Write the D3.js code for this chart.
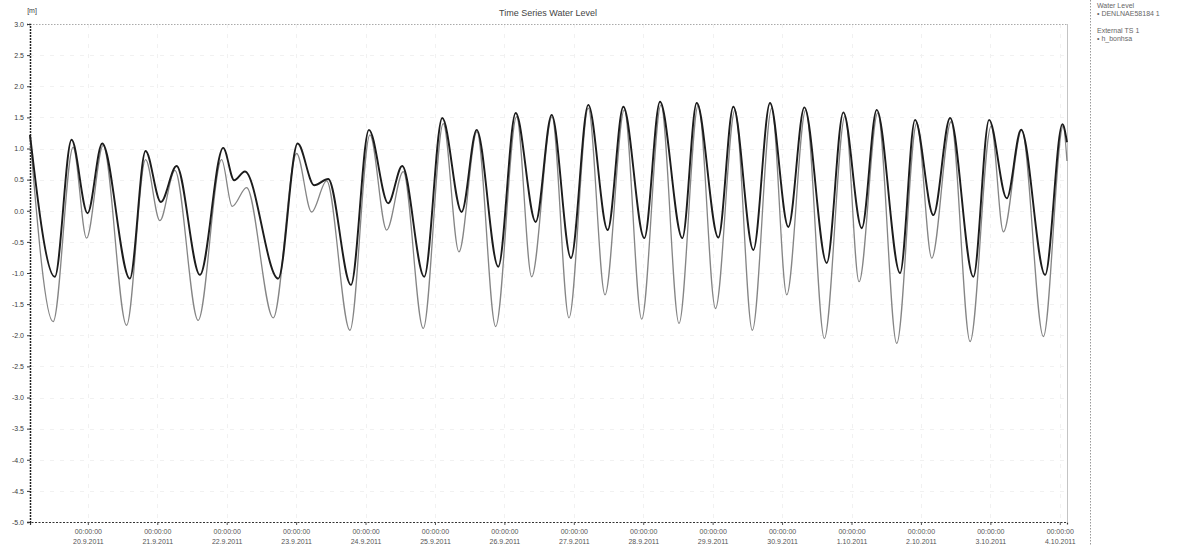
<!DOCTYPE html>
<html>
<head>
<meta charset="utf-8">
<script src="https://cdn.jsdelivr.net/npm/d3@7"></script>
<style>
  html, body { margin: 0; padding: 0; background: #fff; }
  svg { display: block; }
  text { font-family: "Liberation Sans", "DejaVu Sans", sans-serif; }
</style>
</head>
<body>
<svg id="chart" width="1203" height="558"></svg>
<script>
// Water level time series (m), turning points of the tide curve
const waterLevel = [
  ["2011-09-19 04:00", 1.22], ["2011-09-19 12:35", -1.06], ["2011-09-19 18:22", 1.14],
  ["2011-09-19 23:54", -0.04], ["2011-09-20 04:57", 1.08], ["2011-09-20 14:31", -1.09],
  ["2011-09-20 19:57", 0.96], ["2011-09-21 01:14", 0.14], ["2011-09-21 06:40", 0.72],
  ["2011-09-21 14:44", -1.03], ["2011-09-21 22:47", 1.01], ["2011-09-22 02:35", 0.49],
  ["2011-09-22 06:17", 0.63], ["2011-09-22 17:49", -1.09], ["2011-09-23 00:31", 1.08],
  ["2011-09-23 06:15", 0.41], ["2011-09-23 11:06", 0.51], ["2011-09-23 18:57", -1.19],
  ["2011-09-24 01:10", 1.30], ["2011-09-24 07:50", 0.12], ["2011-09-24 12:41", 0.72],
  ["2011-09-24 20:17", -1.06], ["2011-09-25 02:31", 1.49], ["2011-09-25 09:13", -0.02],
  ["2011-09-25 14:25", 1.30], ["2011-09-25 21:53", -0.90], ["2011-09-26 03:54", 1.57],
  ["2011-09-26 10:49", -0.18], ["2011-09-26 16:21", 1.54], ["2011-09-26 23:01", -0.76],
  ["2011-09-27 05:00", 1.70], ["2011-09-27 11:43", -0.31], ["2011-09-27 17:07", 1.67],
  ["2011-09-28 00:22", -0.44], ["2011-09-28 05:48", 1.75], ["2011-09-28 13:31", -0.44],
  ["2011-09-28 18:29", 1.73], ["2011-09-29 01:58", -0.43], ["2011-09-29 07:09", 1.67],
  ["2011-09-29 14:04", -0.63], ["2011-09-29 19:50", 1.73], ["2011-09-30 02:10", -0.26],
  ["2011-09-30 07:42", 1.66], ["2011-09-30 15:26", -0.84], ["2011-09-30 21:11", 1.58],
  ["2011-10-01 03:33", -0.28], ["2011-10-01 08:43", 1.62], ["2011-10-01 16:47", -1.00],
  ["2011-10-01 21:58", 1.46], ["2011-10-02 04:18", -0.07], ["2011-10-02 10:05", 1.49],
  ["2011-10-02 18:08", -1.06], ["2011-10-02 23:34", 1.46], ["2011-10-03 05:41", 0.20],
  ["2011-10-03 10:38", 1.30], ["2011-10-03 18:56", -1.03], ["2011-10-04 00:55", 1.39],
  ["2011-10-04 02:30", 1.10]
];

// External time series TS 1 (m)
const externalTS = [
  ["2011-09-19 04:00", 1.20], ["2011-09-19 12:00", -1.78], ["2011-09-19 18:55", 1.02],
  ["2011-09-19 23:33", -0.44], ["2011-09-20 05:17", 1.05], ["2011-09-20 13:23", -1.84],
  ["2011-09-20 19:57", 0.82], ["2011-09-21 00:54", -0.16], ["2011-09-21 06:05", 0.65],
  ["2011-09-21 14:08", -1.76], ["2011-09-21 22:14", 0.82], ["2011-09-22 01:54", 0.07],
  ["2011-09-22 06:53", 0.37], ["2011-09-22 16:05", -1.72], ["2011-09-23 00:10", 0.92],
  ["2011-09-23 05:21", -0.02], ["2011-09-23 10:33", 0.48], ["2011-09-23 18:36", -1.92],
  ["2011-09-24 01:31", 1.22], ["2011-09-24 07:17", -0.31], ["2011-09-24 13:02", 0.63],
  ["2011-09-24 19:57", -1.89], ["2011-09-25 02:52", 1.40], ["2011-09-25 08:17", -0.66],
  ["2011-09-25 14:31", 1.27], ["2011-09-25 20:59", -1.86], ["2011-09-26 04:14", 1.51],
  ["2011-09-26 09:26", -1.06], ["2011-09-26 16:27", 1.51], ["2011-09-26 22:20", -1.72],
  ["2011-09-27 05:00", 1.65], ["2011-09-27 10:47", -1.35], ["2011-09-27 17:27", 1.62],
  ["2011-09-27 23:28", -1.74], ["2011-09-28 06:08", 1.70], ["2011-09-28 12:22", -1.81],
  ["2011-09-28 19:02", 1.70], ["2011-09-29 00:59", -1.57], ["2011-09-29 07:44", 1.62],
  ["2011-09-29 13:43", -1.92], ["2011-09-29 20:25", 1.65], ["2011-09-30 01:37", -1.35],
  ["2011-09-30 08:11", 1.62], ["2011-09-30 14:37", -2.05], ["2011-09-30 21:46", 1.52],
  ["2011-10-01 02:37", -1.14], ["2011-10-01 09:04", 1.57], ["2011-10-01 15:38", -2.13],
  ["2011-10-01 22:34", 1.41], ["2011-10-02 03:45", -0.76], ["2011-10-02 10:26", 1.43],
  ["2011-10-02 17:00", -2.10], ["2011-10-03 00:16", 1.36], ["2011-10-03 04:31", -0.34],
  ["2011-10-03 10:52", 1.30], ["2011-10-03 18:20", -2.02], ["2011-10-04 01:10", 1.36],
  ["2011-10-04 02:30", 0.80]
];

const timeDomain = ["2011-09-19 04:00", "2011-10-04 02:30"];
const xTickDates = [
  "2011-09-20", "2011-09-21", "2011-09-22", "2011-09-23", "2011-09-24",
  "2011-09-25", "2011-09-26", "2011-09-27", "2011-09-28", "2011-09-29",
  "2011-09-30", "2011-10-01", "2011-10-02", "2011-10-03", "2011-10-04"
];
const yTickValues = [3.0, 2.5, 2.0, 1.5, 1.0, 0.5, 0.0, -0.5, -1.0, -1.5, -2.0,
                     -2.5, -3.0, -3.5, -4.0, -4.5, -5.0];
const legendItems = [
  ["Water Level", "DENLNAE58184 1"],
  ["External TS 1", "h_bonhsa"]
];

(function drawChart() {
  const parseTime = d3.timeParse("%Y-%m-%d %H:%M");
  const parseDay = d3.timeParse("%Y-%m-%d");

  const svg = d3.select("#chart");
  const plotLeft = 30, plotRight = 1067, plotTop = 24, plotBottom = 522;

  const x = d3.scaleTime()
    .domain(timeDomain.map(parseTime))
    .range([plotLeft, plotRight]);
  const y = d3.scaleLinear()
    .domain([-5, 3])
    .range([plotBottom, plotTop]);

  // very faint grid
  const grid = svg.append("g").attr("stroke", "#f1f1f1").attr("stroke-width", 1)
    .attr("stroke-dasharray", "4,6");
  grid.selectAll("line.h").data(yTickValues.slice(1, -1)).join("line")
    .attr("class", "h")
    .attr("x1", plotLeft).attr("x2", plotRight)
    .attr("y1", d => Math.round(y(d)) + 0.5).attr("y2", d => Math.round(y(d)) + 0.5);
  grid.selectAll("line.v").data(xTickDates.map(parseDay)).join("line")
    .attr("class", "v")
    .attr("x1", d => Math.round(x(d)) + 0.5).attr("x2", d => Math.round(x(d)) + 0.5)
    .attr("y1", plotTop).attr("y2", plotBottom);

  // frame: top dotted border and right edge
  svg.append("line").attr("x1", plotLeft).attr("x2", plotRight)
    .attr("y1", plotTop + 0.5).attr("y2", plotTop + 0.5)
    .attr("stroke", "#aaa").attr("stroke-dasharray", "1.5,1.5");
  svg.append("line").attr("x1", plotRight + 0.5).attr("x2", plotRight + 0.5)
    .attr("y1", plotTop).attr("y2", plotBottom)
    .attr("stroke", "#c4c4c4");

  // y axis
  const yAxis = d3.axisLeft(y).tickValues(yTickValues).tickSize(3)
    .tickFormat(d => d3.format(".1f")(d).replace("\u2212", "-"));
  const gy = svg.append("g").attr("transform", `translate(${plotLeft},0)`).call(yAxis);
  gy.select(".domain").attr("stroke", "#222").attr("stroke-width", 1.5).attr("stroke-dasharray", "2,1");
  gy.selectAll(".tick line").attr("stroke", "#333");
  gy.selectAll(".tick text").attr("font-size", 7).attr("fill", "#3a3a3a")
    .attr("font-family", "'DejaVu Sans', sans-serif");

  // x axis
  const xAxis = d3.axisBottom(x).tickValues(xTickDates.map(parseDay)).tickSize(3).tickFormat("");
  const gx = svg.append("g").attr("transform", `translate(0,${plotBottom})`).call(xAxis);
  gx.select(".domain").attr("stroke", "#333").attr("stroke-width", 1.2).attr("stroke-dasharray", "2,1.5");
  gx.selectAll(".tick line").attr("stroke", "#555");
  const fmtTime = d3.timeFormat("%H:%M:%S");
  const fmtDate = d => `${d.getDate()}.${d.getMonth() + 1}.${d.getFullYear()}`;
  gx.selectAll(".tick").each(function (d) {
    const t = d3.select(this).select("text");
    t.text(null).attr("y", 0).attr("dy", null)
      .attr("font-size", 7).attr("fill", "#555").attr("font-family", "'DejaVu Sans', sans-serif");
    t.append("tspan").attr("x", 0).attr("y", 12).text(fmtTime(d));
    t.append("tspan").attr("x", 0).attr("y", 22).text(fmtDate(d));
  });

  // unit label and title
  svg.append("text").attr("x", 32).attr("y", 13).attr("font-size", 7).attr("fill", "#3a3a3a")
    .attr("text-anchor", "middle").text("[m]");
  svg.append("text").attr("x", 548).attr("y", 16).attr("font-size", 9).attr("fill", "#444")
    .attr("text-anchor", "middle").text("Time Series Water Level");

  // series lines
  const line = d3.line()
    .x(d => x(parseTime(d[0])))
    .y(d => y(d[1]))
    .curve(d3.curveMonotoneX);

  svg.append("path").datum(externalTS)
    .attr("fill", "none").attr("stroke", "#858585").attr("stroke-width", 1.3)
    .attr("d", line);
  svg.append("path").datum(waterLevel)
    .attr("fill", "none").attr("stroke", "#1c1c1c").attr("stroke-width", 1.9)
    .attr("d", line);

  // legend panel
  svg.append("line").attr("x1", 1090.5).attr("x2", 1090.5).attr("y1", 0).attr("y2", 546)
    .attr("stroke", "#999").attr("stroke-dasharray", "1.5,1.5");
  const lg = svg.append("g").attr("font-size", 7).attr("fill", "#666")
    .attr("font-family", "'DejaVu Sans', sans-serif");
  legendItems.forEach((item, i) => {
    const yy = 8 + i * 25;
    lg.append("text").attr("x", 1097).attr("y", yy).text(item[0]);
    lg.append("text").attr("x", 1097).attr("y", yy + 8).text("\u2022 " + item[1]);
  });
})();
</script>
</body>
</html>
